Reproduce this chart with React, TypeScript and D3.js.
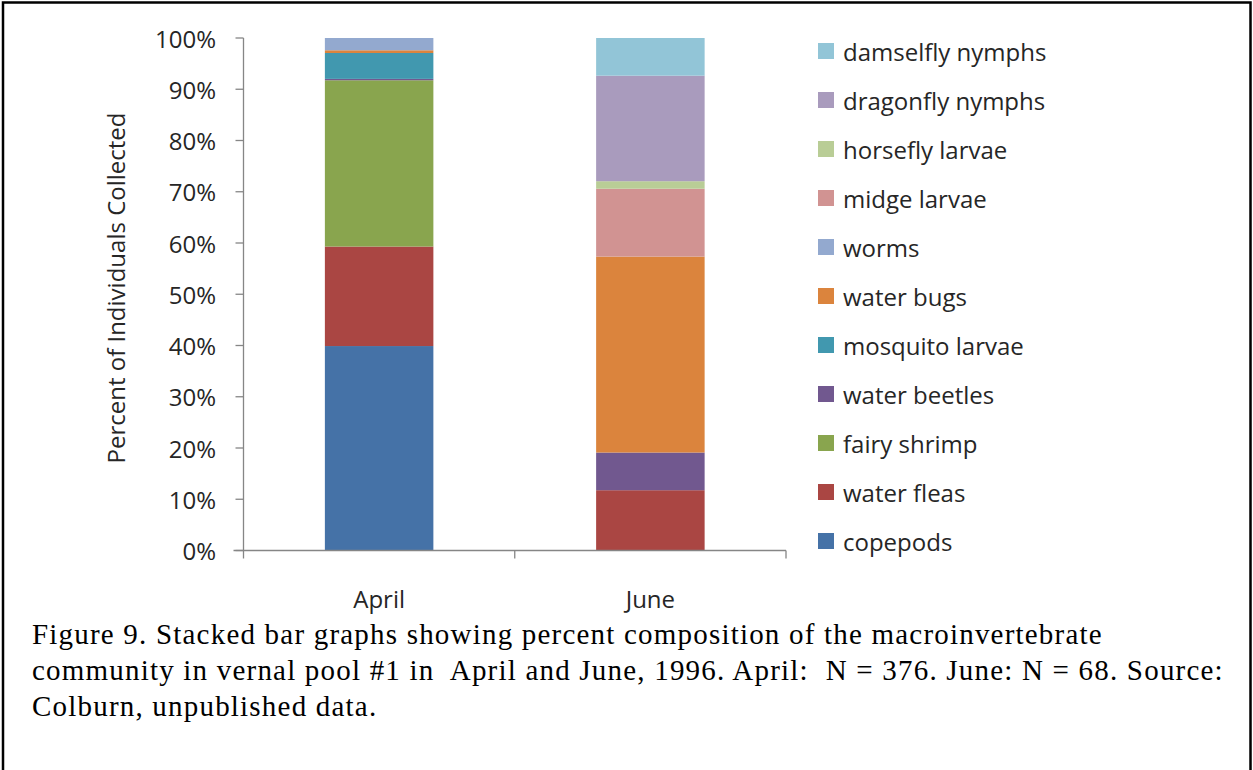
import React from "react";
import * as d3 from "d3";

const months = ["April", "June"];
const totals = [376, 68];
const taxa = [
  "copepods",
  "water fleas",
  "fairy shrimp",
  "water beetles",
  "mosquito larvae",
  "water bugs",
  "worms",
  "midge larvae",
  "horsefly larvae",
  "dragonfly nymphs",
  "damselfly nymphs",
];
// counts (percent * N)
const aprilCounts = [150, 73, 122, 1, 19, 2, 9, 0, 0, 0, 0];
const juneCounts = [0, 8, 0, 5, 0, 26, 0, 9, 1, 14, 5];
const colors = [
  "#4572A7",
  "#AA4643",
  "#89A54E",
  "#71588F",
  "#4198AF",
  "#DB843D",
  "#93A9CF",
  "#D19392",
  "#B9CD96",
  "#A99BBD",
  "#92C5D7",
];
const yTicks = [0, 10, 20, 30, 40, 50, 60, 70, 80, 90, 100];
const captionLines = [
  "Figure 9. Stacked bar graphs showing percent composition of the macroinvertebrate",
  "community in vernal pool #1 in  April and June, 1996. April:  N = 376. June: N = 68. Source:",
  "Colburn, unpublished data.",
];

const W = 1253;
const H = 770;
const plot = { left: 243.5, right: 786, top: 38, bottom: 550.5 };
const font = "'Open Sans', Lato, sans-serif";
const fs = 24;
const txt = "#262626";

export default function App() {
  const x = d3
    .scaleBand<string>()
    .domain(months)
    .range([plot.left, plot.right])
    .paddingInner(0.6)
    .paddingOuter(0.3);
  const y = d3.scaleLinear().domain([0, 100]).range([plot.bottom, plot.top]);

  const rows = months.map((m, i) => {
    const counts = i === 0 ? aprilCounts : juneCounts;
    const r: any = { month: m };
    taxa.forEach((t, k) => (r[t] = (counts[k] / totals[i]) * 100));
    return r;
  });
  const series = d3.stack<any>().keys(taxa)(rows);

  const band = (plot.right - plot.left) / months.length;
  const legendX = 818;
  const legendY0 = 51;
  const legendStep = 49;

  return (
    <svg
      width={W}
      height={H}
      style={{ position: "absolute", left: 0, top: 0, background: "#fff" }}
    >
      <rect x={0} y={0} width={W} height={H} fill="#fff" />
      {/* frame */}
      <path
        d={`M3,${H + 5} V2.5 H1250.5 V${H + 5}`}
        fill="none"
        stroke="#000"
        strokeWidth={2.5}
      />
      {/* bars */}
      {series.map((s, k) =>
        s.map((d, i) =>
          d[1] - d[0] > 0 ? (
            <rect
              key={`${k}-${i}`}
              x={x(months[i])!}
              width={x.bandwidth()}
              y={y(d[1])}
              height={y(d[0]) - y(d[1])}
              fill={colors[k]}
            />
          ) : null
        )
      )}
      {/* y axis */}
      <line x1={plot.left} x2={plot.left} y1={plot.top} y2={plot.bottom} stroke="#868686" strokeWidth={1.3} />
      {yTicks.map((t) => (
        <g key={t}>
          <line x1={plot.left - 8} x2={plot.left} y1={y(t)} y2={y(t)} stroke="#868686" strokeWidth={1.3} />
          <text
            x={216}
            y={y(t)}
            textAnchor="end"
            dominantBaseline="central"
            fontFamily={font}
            fontSize={fs}
            fill={txt}
          >
            {t}%
          </text>
        </g>
      ))}
      {/* x axis */}
      <line x1={plot.left - 10} x2={plot.right} y1={plot.bottom} y2={plot.bottom} stroke="#868686" strokeWidth={1.3} />
      {d3.range(months.length + 1).map((i) => (
        <line
          key={i}
          x1={plot.left + i * band}
          x2={plot.left + i * band}
          y1={plot.bottom}
          y2={plot.bottom + 8}
          stroke="#868686"
          strokeWidth={1.3}
        />
      ))}
      {months.map((m) => (
        <text
          key={m}
          x={x(m)! + x.bandwidth() / 2}
          y={598}
          textAnchor="middle"
          dominantBaseline="central"
          fontFamily={font}
          fontSize={fs}
          fill={txt}
        >
          {m}
        </text>
      ))}
      {/* y title */}
      <text
        transform={`translate(115,288) rotate(-90)`}
        textAnchor="middle"
        dominantBaseline="central"
        fontFamily={font}
        fontSize={fs}
        fill={txt}
      >
        Percent of Individuals Collected
      </text>
      {/* legend */}
      {taxa
        .slice()
        .reverse()
        .map((t, j) => {
          const k = taxa.length - 1 - j;
          const cy = legendY0 + j * legendStep;
          return (
            <g key={t}>
              <rect x={legendX} y={cy - 8} width={16} height={16} fill={colors[k]} />
              <text
                x={843}
                y={cy}
                dominantBaseline="central"
                fontFamily={font}
                fontSize={fs}
                fill={txt}
              >
                {t}
              </text>
            </g>
          );
        })}
      {/* caption */}
      {captionLines.map((l, i) => (
        <text
          key={i}
          x={32}
          y={644 + i * 36}
          fontFamily="'Liberation Serif', 'Times New Roman', serif"
          fontSize={29}
          letterSpacing={1.2}
          fill="#000"
          style={{ whiteSpace: "pre" }}
        >
          {l}
        </text>
      ))}
    </svg>
  );
}
